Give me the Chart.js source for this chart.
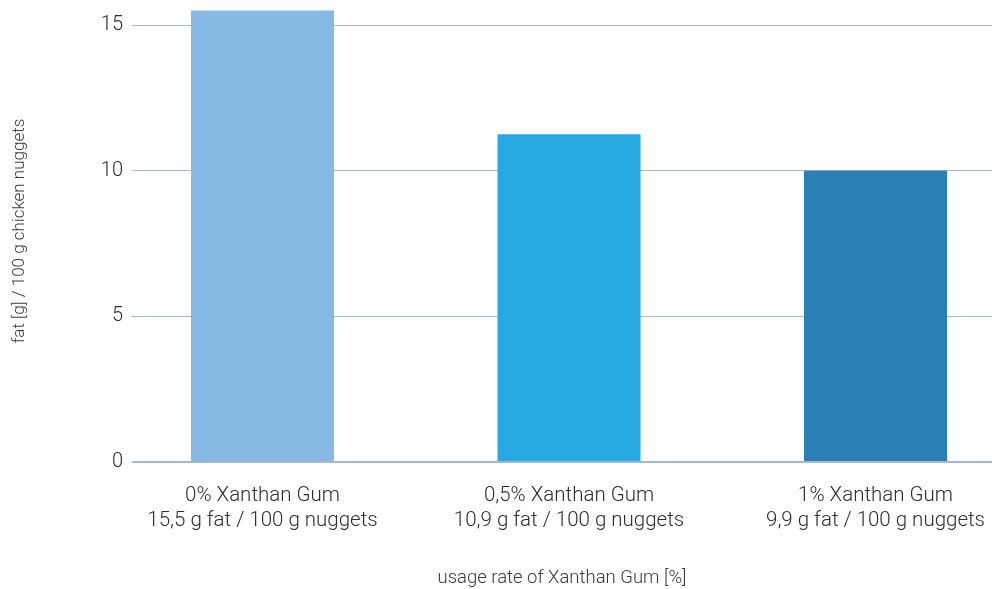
<!DOCTYPE html>
<html>
<head>
<meta charset="utf-8">
<script src="https://cdn.jsdelivr.net/npm/chart.js@4"></script>
<style>
  html, body { margin: 0; padding: 0; background: #ffffff; overflow: hidden; }
  #wrap { position: relative; width: 992px; height: 589px; }
</style>
</head>
<body>
<div id="wrap"><canvas id="c" width="992" height="589"></canvas></div>
<script>
const categories = ['0% Xanthan Gum', '0,5% Xanthan Gum', '1% Xanthan Gum'];
const subLabels = ['15,5 g fat / 100 g nuggets', '10,9 g fat / 100 g nuggets', '9,9 g fat / 100 g nuggets'];
const fatValues = [15.5, 11.25, 10.0];
const barColors = ['#86b9e3', '#25a9e0', '#2a7fb4'];
const yTicks = [0, 5, 10, 15];
const yTitle = 'fat [g] / 100 g chicken nuggets';
const xTitle = 'usage rate of Xanthan Gum [%]';

const fontFamily = 'Roboto, "Liberation Sans", sans-serif';

new Chart(document.getElementById('c'), {
  type: 'bar',
  data: {
    datasets: [{
      data: categories.map((c, i) => ({ x: i, y: fatValues[i] })),
      backgroundColor: barColors,
      borderWidth: 0,
      barPercentage: 0.4666,
      categoryPercentage: 1
    }]
  },
  options: {
    responsive: false,
    animation: false,
    layout: { padding: { top: 0, right: 0, bottom: 0, left: 0 } },
    plugins: { legend: { display: false }, tooltip: { enabled: false } },
    scales: {
      x: {
        type: 'linear',
        min: -0.4258,
        max: 2.38,
        offset: false,
        grid: { display: false, drawTicks: false },
        border: { display: false },
        afterBuildTicks: (s) => { s.ticks = categories.map((c, i) => ({ value: i })); },
        afterFit: (s) => { s.height = 127; s.paddingLeft = 0; s.paddingRight = 0; },
        ticks: {
          autoSkip: false,
          maxRotation: 0,
          padding: 21,
          color: '#2e2e2e',
          font: { family: fontFamily, size: 20.5, weight: 300, lineHeight: 1.245 },
          callback: (v) => [categories[v], subLabels[v]]
        },
        title: {
          display: true,
          text: xTitle,
          color: '#3a3a3a',
          font: { family: fontFamily, size: 18.5, weight: 300 },
          padding: { top: 0, bottom: 0 }
        }
      },
      y: {
        min: 0,
        max: 15.86,
        afterBuildTicks: (s) => { s.ticks = yTicks.map(v => ({ value: v })); },
        afterFit: (s) => { s.width = 132; s.paddingTop = 0; s.paddingBottom = 0; },
        grid: {
          drawTicks: false,
          color: '#a3b8d4',
          lineWidth: (ctx) => (ctx.tick && ctx.tick.value === 0 ? 2 : 1)
        },
        border: { display: false },
        ticks: {
          padding: 9,
          color: '#2e2e2e',
          font: { family: fontFamily, size: 20, weight: 300 }
        },
        title: {
          display: true,
          text: yTitle,
          color: '#3a3a3a',
          font: { family: fontFamily, size: 17, weight: 300 },
          padding: { top: 10, bottom: 0 }
        }
      }
    }
  }
});
</script>
</body>
</html>
